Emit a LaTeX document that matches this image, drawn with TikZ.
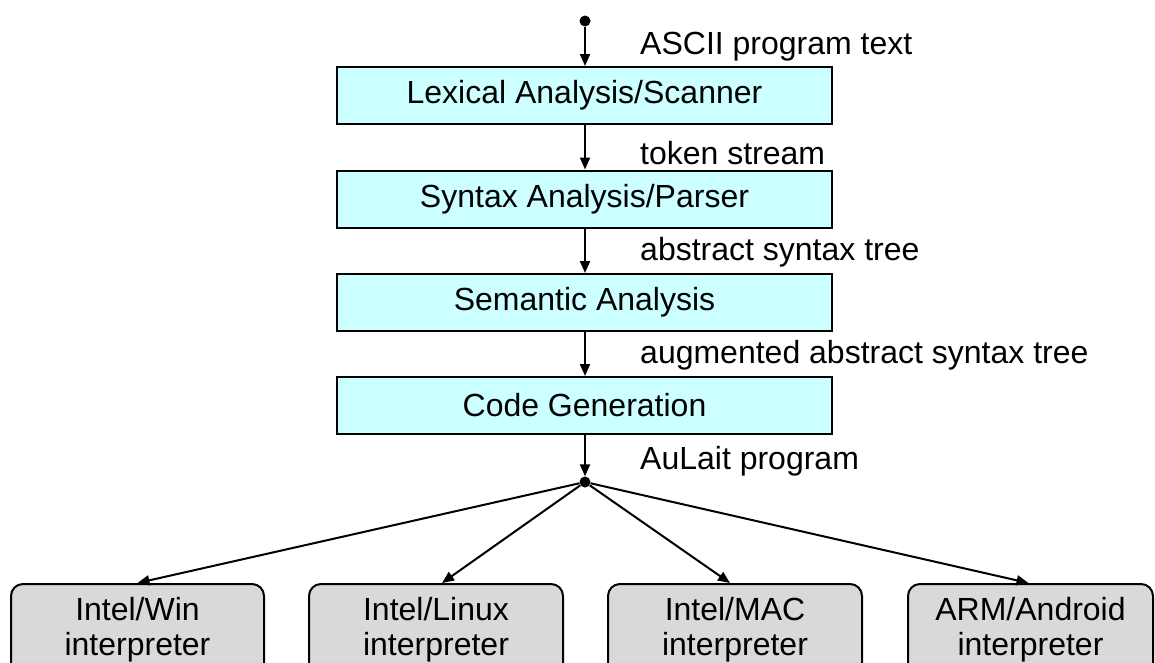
\documentclass[tikz,border=0pt]{standalone}
\usepackage{fontspec}
\setmainfont{Liberation Sans}
\usetikzlibrary{arrows.meta}
\definecolor{stagefill}{HTML}{CCFFFF}
\definecolor{interpfill}{HTML}{D9D9D9}
\begin{document}
\begin{tikzpicture}[x=1pt,y=-1pt,
  stagebox/.style={draw=black,line width=2pt,fill=stagefill,minimum width=495pt,minimum height=57pt,inner sep=0pt,font=\fontsize{32}{36}\selectfont},
  interpbox/.style={draw=black,line width=2pt,fill=interpfill,rounded corners=12pt,minimum height=92pt,inner sep=0pt,align=center,font=\fontsize{32}{35}\selectfont},
  lbl/.style={anchor=west,inner sep=0pt,font=\fontsize{32}{36}\selectfont},
  flow/.style={line width=2pt,-{Triangle[length=12pt,width=10pt]}},
  junction/.style={circle,fill=black,minimum size=11pt,inner sep=0pt}]
\clip (0,0) rectangle (1155,662);
\fill[white] (0,0) rectangle (1155,662);

\node[junction] (start) at (585,21) {};
\node[stagebox] (lex) at (584.5,95.5) {Lexical Analysis/Scanner};
\node[stagebox] (syn) at (584.5,199) {Syntax Analysis/Parser};
\node[stagebox] (sem) at (584.5,302.5) {Semantic Analysis};
\node[stagebox] (gen) at (584.5,405.5) {Code Generation};
\node[junction] (branch) at (585,482) {};

\node[interpbox,minimum width=253pt] (win) at (137.5,630) {Intel/Win\\interpreter};
\node[interpbox,minimum width=254pt] (lin) at (436,630) {Intel/Linux\\interpreter};
\node[interpbox,minimum width=254pt] (mac) at (735,630) {Intel/MAC\\interpreter};
\node[interpbox,minimum width=245pt] (arm) at (1030.5,630) {ARM/Android\\interpreter};

\node[lbl] (l1) at (640,47) {ASCII program text};
\node[lbl] (l2) at (640,153) {token stream};
\node[lbl] (l3) at (640,252) {abstract syntax tree};
\node[lbl] (l4) at (640,355) {augmented abstract syntax tree};
\node[lbl] (l5) at (640,461) {AuLait program};

\draw[flow] (start) -- (start |- lex.north);
\draw[flow] (lex.south -| start) -- (syn.north -| start);
\draw[flow] (syn.south -| start) -- (sem.north -| start);
\draw[flow] (sem.south -| start) -- (gen.north -| start);
\draw[flow] (gen.south -| start) -- (branch);
\draw[flow] (branch) -- (win.north);
\draw[flow] (branch) -- ([xshift=6pt]lin.north);
\draw[flow] (branch) -- ([xshift=-5pt]mac.north);
\draw[flow] (branch) -- ([xshift=-2pt]arm.north);
\end{tikzpicture}
\end{document}
